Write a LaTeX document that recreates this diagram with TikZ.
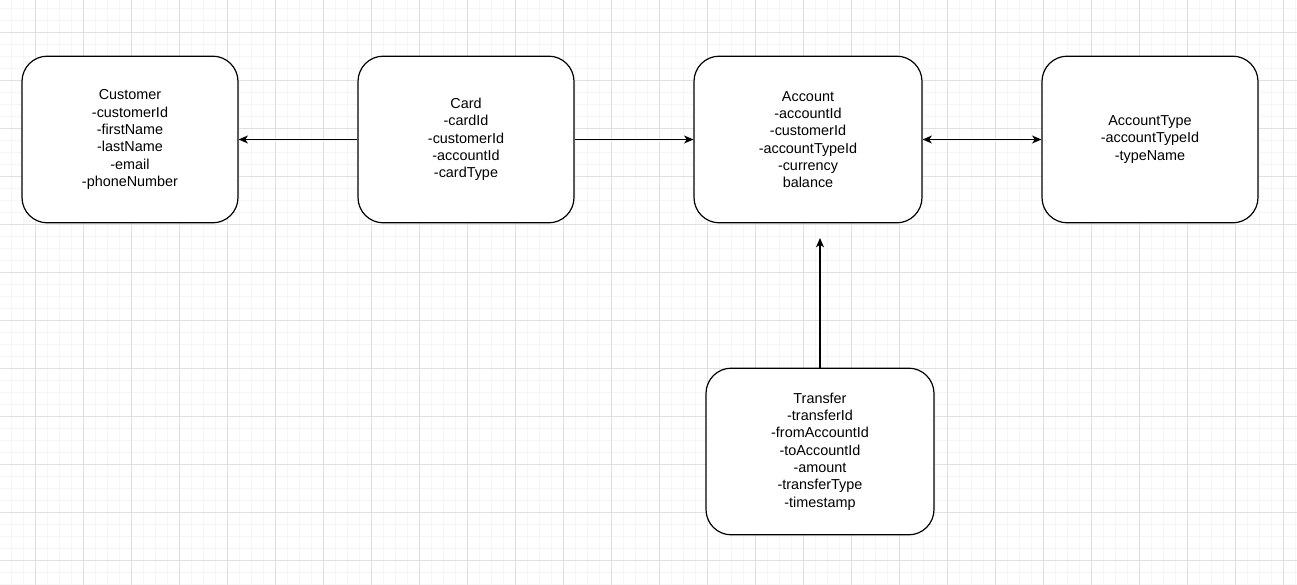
\documentclass[tikz,border=0pt]{standalone}
\usepackage{fontspec}
\setmainfont{Liberation Sans}
\usetikzlibrary{arrows.meta}
\tikzset{every picture/.style={line width=0.75pt}}
\tikzset{
	entity/.style={draw, line width=0.9pt, rounded corners=19pt, fill=white, align=center, inner sep=0pt,
		minimum width=162pt, minimum height=125pt, font=\fontsize{10.8}{13}\selectfont},
	link/.style={line width=0.9pt, -{Stealth[length=7pt,width=6pt,inset=2pt]}},
	links/.style={line width=0.9pt, {Stealth[length=7pt,width=6pt,inset=2pt]}-{Stealth[length=7pt,width=6pt,inset=2pt]}}
}

\begin{document}
\begin{tikzpicture}[x=0.75pt,y=0.75pt,yscale=-1,xscale=1]
		\useasboundingbox (0,0) rectangle (1297,585);
		\fill[white] (0,0) rectangle (1297,585);
		
		%Grid minor
		\foreach \gx in {-1,11,...,1297} \draw[color={rgb,255:red,246;green,246;blue,246}, line width=0.6pt] (\gx,0) -- (\gx,585);
		\foreach \gy in {8,20,...,585} \draw[color={rgb,255:red,246;green,246;blue,246}, line width=0.6pt] (0,\gy) -- (1297,\gy);
		%Grid major
		\foreach \gx in {35,83,...,1297} \draw[color={rgb,255:red,224;green,224;blue,224}, line width=0.6pt] (\gx,0) -- (\gx,585);
		\foreach \gy in {32,80,...,585} \draw[color={rgb,255:red,224;green,224;blue,224}, line width=0.6pt] (0,\gy) -- (1297,\gy);
		
		% Text Node
		\node[entity] (customer) at (130,139.5) {Customer\\-customerId\\-firstName\\-lastName\\-email\\-phoneNumber};
		% Text Node
		\node[entity] (card) at (466,139.5) {Card\\-cardId\\-customerId\\-accountId\\-cardType};
		% Text Node
		\node[entity, minimum width=171pt] (account) at (808,139.5) {Account\\-accountId\\-customerId\\-accountTypeId\\-currency\\balance};
		% Text Node
		\node[entity] (accounttype) at (1150,139.5) {AccountType\\-accountTypeId\\-typeName};
		% Text Node
		\node[entity, minimum width=171pt] (transfer) at (820,451.5) {Transfer\\-transferId\\-fromAccountId\\-toAccountId\\-amount\\-transferType\\-timestamp};
		
		\coordinate (accountin) at (820,238);
		
		%Straight Lines
		\draw[link] (card.west) -- (customer.east);
		\draw[link] (card.east) -- (account.west);
		\draw[links] (account.east) -- (accounttype.west);
		\draw[link] (transfer.north) -- (accountin);
		
\end{tikzpicture}
\end{document}
